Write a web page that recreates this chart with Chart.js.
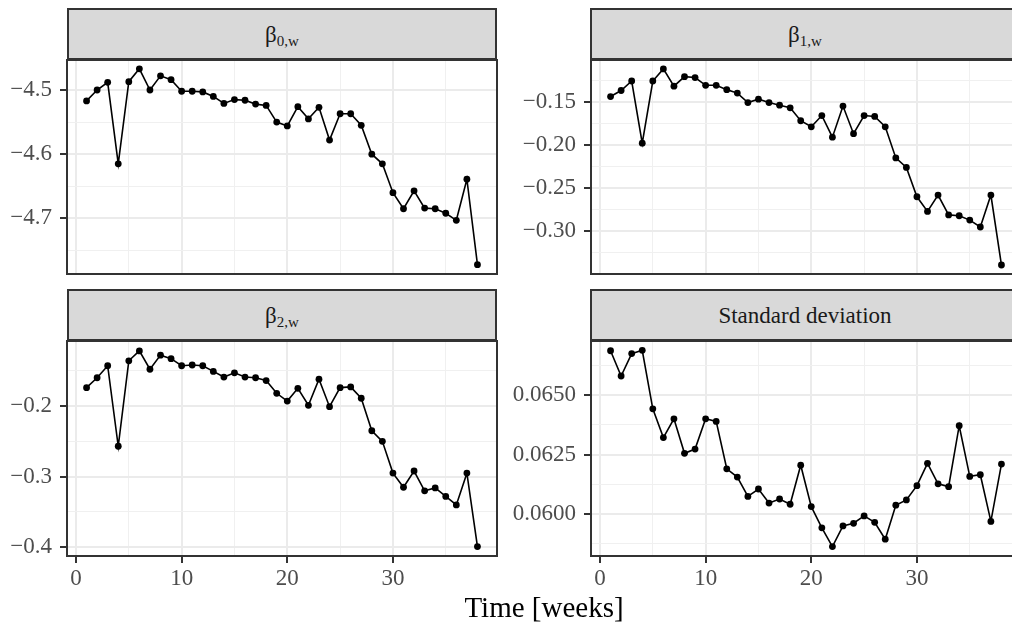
<!DOCTYPE html>
<html>
<head>
<meta charset="utf-8">
<script src="https://cdn.jsdelivr.net/npm/chart.js@4.4.1/dist/chart.umd.min.js"></script>
<style>
html, body { margin: 0; padding: 0; background: #fff; overflow: hidden; width: 1012px; height: 627px; }
body { position: relative; font-family: "Liberation Serif", serif; }
canvas { position: absolute; }
.strip { position: absolute; box-sizing: border-box; height: 53px; width: 430px; background: #d9d9d9;
  border: 2px solid #333; border-bottom-width: 3px; color: #1a1a1a; font-size: 23px; text-align: center; line-height: 49px; }
.strip sub { font-size: 15px; vertical-align: -4px; line-height: 0; }
#xtitle { position: absolute; left: 0; width: 1088px; top: 593px; text-align: center; font-size: 29px; line-height: 29px; color: #000; }
</style>
</head>
<body>
<canvas id="p0" width="510" height="270" style="left:0;top:30px"></canvas>
<canvas id="p1" width="530" height="270" style="left:506px;top:30px"></canvas>
<canvas id="p2" width="510" height="316" style="left:0;top:311px"></canvas>
<canvas id="p3" width="530" height="316" style="left:506px;top:311px"></canvas>

<div class="strip" style="left:67px;top:8px">β<sub>0,w</sub></div>
<div class="strip" style="left:590px;top:8px">β<sub>1,w</sub></div>
<div class="strip" style="left:67px;top:289px">β<sub>2,w</sub></div>
<div class="strip" style="left:590px;top:289px">Standard deviation</div>
<div id="xtitle">Time [weeks]</div>

<script>
// weekly estimates
const weeks = [1,2,3,4,5,6,7,8,9,10,11,12,13,14,15,16,17,18,19,20,21,22,23,24,25,26,27,28,29,30,31,32,33,34,35,36,37,38];

const beta0 = [-4.517,-4.500,-4.488,-4.615,-4.487,-4.467,-4.500,-4.478,-4.484,-4.502,-4.502,-4.503,-4.510,-4.521,-4.515,-4.516,-4.522,-4.524,-4.550,-4.556,-4.526,-4.545,-4.527,-4.578,-4.537,-4.537,-4.555,-4.600,-4.615,-4.660,-4.685,-4.657,-4.684,-4.685,-4.692,-4.703,-4.639,-4.772];
const beta1 = [-0.144,-0.137,-0.126,-0.198,-0.126,-0.112,-0.132,-0.121,-0.122,-0.131,-0.131,-0.136,-0.140,-0.151,-0.147,-0.151,-0.154,-0.157,-0.172,-0.179,-0.166,-0.191,-0.155,-0.187,-0.166,-0.167,-0.179,-0.215,-0.226,-0.260,-0.277,-0.258,-0.281,-0.282,-0.287,-0.295,-0.258,-0.339];
const beta2 = [-0.174,-0.160,-0.143,-0.257,-0.136,-0.122,-0.148,-0.128,-0.133,-0.143,-0.142,-0.143,-0.151,-0.159,-0.153,-0.159,-0.160,-0.164,-0.182,-0.193,-0.175,-0.199,-0.162,-0.201,-0.174,-0.173,-0.189,-0.235,-0.250,-0.295,-0.315,-0.292,-0.320,-0.316,-0.328,-0.340,-0.295,-0.399];
const sdev = [0.06686,0.06580,0.06674,0.06688,0.06442,0.06321,0.06400,0.06255,0.06273,0.06400,0.06389,0.06190,0.06155,0.06074,0.06105,0.06046,0.06063,0.06041,0.06205,0.06031,0.05942,0.05863,0.05950,0.05961,0.05992,0.05965,0.05894,0.06037,0.06059,0.06119,0.06213,0.06127,0.06115,0.06371,0.06158,0.06165,0.05969,0.06210];

// axes
const xTicks = [0, 10, 20, 30];
const xMinor = [5, 15, 25, 35];

const b0Ticks = [-4.7, -4.6, -4.5];
const b0Labels = ['−4.7', '−4.6', '−4.5'];
const b0Minor = [-4.75, -4.65, -4.55];

const b1Ticks = [-0.30, -0.25, -0.20, -0.15];
const b1Labels = ['−0.30', '−0.25', '−0.20', '−0.15'];
const b1Minor = [-0.325, -0.275, -0.225, -0.175, -0.125];

const b2Ticks = [-0.4, -0.3, -0.2];
const b2Labels = ['−0.4', '−0.3', '−0.2'];
const b2Minor = [-0.35, -0.25, -0.15];

const sdTicks = [0.0600, 0.0625, 0.0650];
const sdLabels = ['0.0600', '0.0625', '0.0650'];
const sdMinor = [0.05875, 0.06125, 0.06375, 0.06625];

const tickFont = { family: 'Liberation Serif', size: 23 };
const near = (list, v) => list.findIndex(t => Math.abs(t - v) < 1e-9);

const frame = {
    id: 'frame',
    afterDraw(chart) {
        const a = chart.chartArea;
        const ctx = chart.ctx;
        ctx.save();
        ctx.strokeStyle = '#333';
        ctx.lineWidth = 2;
        ctx.strokeRect(a.left, a.top, a.right - a.left, a.bottom - a.top);
        ctx.restore();
    }
};

function panel(id, values, ticks, labels, minor, yMin, yMax, showX, yWidth, pad) {
    const isMajorX = c => c.tick && near(xTicks, c.tick.value) >= 0;
    const isMajorY = c => c.tick && near(ticks, c.tick.value) >= 0;

    new Chart(document.getElementById(id), {
        type: 'line',
        data: {
            datasets: [{
                data: weeks.map((w, i) => ({ x: w, y: values[i] })),
                borderColor: '#000',
                backgroundColor: '#000',
                borderWidth: 1.6,
                pointRadius: 3.4,
                pointHoverRadius: 3.4,
                pointBorderWidth: 0,
                tension: 0
            }]
        },
        options: {
            responsive: false,
            animation: false,
            events: [],
            layout: { padding: pad },
            plugins: { legend: { display: false }, tooltip: { enabled: false } },
            scales: {
                x: {
                    type: 'linear',
                    min: -0.85,
                    max: 39.85,
                    afterBuildTicks: s => { s.ticks = xTicks.concat(xMinor).sort((a, b) => a - b).map(v => ({ value: v })); },
                    afterFit: s => { s.height = showX ? 40 : 0; },
                    border: { display: false },
                    grid: {
                        color: c => isMajorX(c) ? '#ebebeb' : '#f0f0f0',
                        lineWidth: c => isMajorX(c) ? 2 : 1,
                        drawTicks: showX,
                        tickLength: 7,
                        tickWidth: 2,
                        tickColor: c => isMajorX(c) ? '#333' : 'rgba(0,0,0,0)'
                    },
                    ticks: {
                        display: showX,
                        autoSkip: false,
                        maxRotation: 0,
                        padding: 2,
                        color: '#4d4d4d',
                        font: tickFont,
                        callback: v => near(xTicks, v) >= 0 ? String(v) : ''
                    }
                },
                y: {
                    min: yMin,
                    max: yMax,
                    afterBuildTicks: s => { s.ticks = ticks.concat(minor).sort((a, b) => a - b).map(v => ({ value: v })); },
                    afterFit: s => { s.width = yWidth; },
                    border: { display: false },
                    grid: {
                        color: c => isMajorY(c) ? '#ebebeb' : '#f0f0f0',
                        lineWidth: c => isMajorY(c) ? 2 : 1,
                        tickLength: 7,
                        tickWidth: 2,
                        tickColor: c => isMajorY(c) ? '#333' : 'rgba(0,0,0,0)'
                    },
                    ticks: {
                        autoSkip: false,
                        padding: 8,
                        color: '#4d4d4d',
                        font: tickFont,
                        callback: v => { const k = near(ticks, v); return k >= 0 ? labels[k] : ''; }
                    }
                }
            }
        },
        plugins: [frame]
    });
}

panel('p0', beta0, b0Ticks, b0Labels, b0Minor, -4.7866, -4.4533, false, 67, { left: 0, top: 30, right: 13, bottom: 26 });
panel('p1', beta1, b1Ticks, b1Labels, b1Minor, -0.3494, -0.1017, false, 85, { left: 0, top: 30, right: 15, bottom: 26 });
panel('p2', beta2, b2Ticks, b2Labels, b2Minor, -0.4123, -0.108, true, 67, { left: 0, top: 30, right: 13, bottom: 31 });
panel('p3', sdev, sdTicks, sdLabels, sdMinor, 0.058235, 0.06727, true, 85, { left: 0, top: 30, right: 15, bottom: 31 });
</script>
</body>
</html>
